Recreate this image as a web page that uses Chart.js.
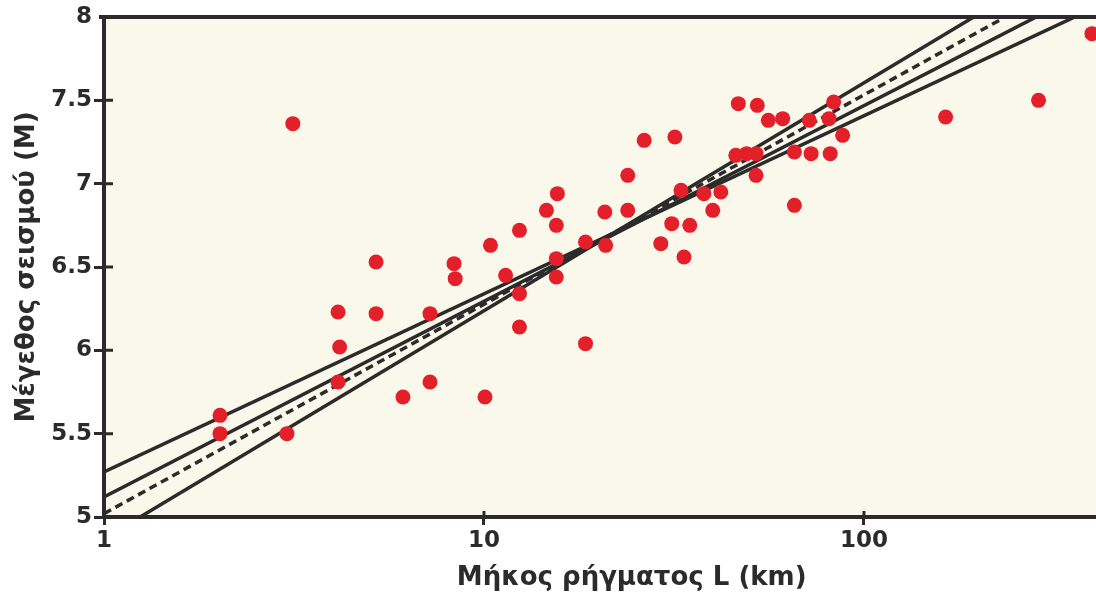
<!DOCTYPE html>
<html lang="el">
<head>
  <meta charset="UTF-8">
  <title>Μέγεθος σεισμού και μήκος ρήγματος</title>
  <style>
    html, body { margin: 0; padding: 0; background: #ffffff; }
    #wrap { width: 1096px; height: 600px; position: relative; }
  </style>
</head>
<body>
  <div id="wrap"><canvas id="chart"></canvas></div>

  <script src="https://cdn.jsdelivr.net/npm/chart.js"></script>
  <script>
    // Σεισμοί: μήκος ρήγματος L (km) και μέγεθος M
    var lengthKm = [2.02, 2.02, 3.03, 3.14, 4.13, 4.17, 4.13, 5.2, 5.2, 6.12,
                    7.21, 7.21, 8.34, 8.4, 10.06, 10.4, 11.4, 12.4, 12.4, 12.4,
                    14.6, 15.6, 15.5, 15.5, 15.5, 18.5, 18.5, 20.8, 20.9, 23.9,
                    23.9, 26.4, 29.2, 31.2, 31.8, 33.0, 33.6, 34.8, 37.9, 40.0,
                    42.0, 46.0, 46.7, 49.1, 52.0, 52.0, 52.4, 56.0, 61.1, 65.6,
                    65.6, 71.8, 72.6, 80.9, 81.5, 83.2, 87.9, 164, 288, 398];
    var magnitude = [5.61, 5.50, 5.50, 7.36, 6.23, 6.02, 5.81, 6.53, 6.22, 5.72,
                     6.22, 5.81, 6.52, 6.43, 5.72, 6.63, 6.45, 6.72, 6.34, 6.14,
                     6.84, 6.94, 6.75, 6.55, 6.44, 6.04, 6.65, 6.83, 6.63, 7.05,
                     6.84, 7.26, 6.64, 6.76, 7.28, 6.96, 6.56, 6.75, 6.94, 6.84,
                     6.95, 7.17, 7.48, 7.18, 7.18, 7.05, 7.47, 7.38, 7.39, 7.19,
                     6.87, 7.38, 7.18, 7.39, 7.18, 7.49, 7.29, 7.40, 7.50, 7.90];

    // Ευθείες συσχέτισης (άκρα σε L, M)
    var fitX = [1, 408];
    var fitUpper = [5.27, 8.06];
    var fitMiddle = [5.12, 8.185];
    var fitSteep = [4.87, 8.44];
    var fitDashedX = [1, 227];
    var fitDashed = [5.02, 7.98];

    var xTicks = [1, 10, 100];
    var yMin = 5, yMax = 8, yStep = 0.5;

    var ink = '#2b2b2b';
    var plotBg = '#faf8ea';
    var dotRed = '#e3202a';
    var fontFamily = '"DejaVu Sans", Verdana, sans-serif';

    function pairs(xs, ys) {
      return xs.map(function(x, i) { return { x: x, y: ys[i] }; });
    }

    function lineSet(xs, ys, dash) {
      return {
        data: pairs(xs, ys),
        showLine: true,
        borderColor: ink,
        borderWidth: 3.5,
        borderDash: dash || [],
        pointRadius: 0,
        fill: false,
        clip: 0,
        order: 1
      };
    }

    // φόντο περιοχής, πάνω πλαίσιο και εσωτερικά τμήματα των υποδιαιρέσεων
    var framePlugin = {
      id: 'frame',
      beforeDraw: function(chart) {
        var a = chart.chartArea, ctx = chart.ctx;
        ctx.save();
        ctx.fillStyle = plotBg;
        ctx.fillRect(a.left, a.top, a.right - a.left, a.bottom - a.top);
        ctx.restore();
      },
      beforeDatasetsDraw: function(chart) {
        var a = chart.chartArea, ctx = chart.ctx;
        var xs = chart.scales.x, ys = chart.scales.y;
        ctx.save();
        ctx.strokeStyle = ink;
        ctx.lineWidth = 3;
        ctx.beginPath();
        xs.ticks.forEach(function(t) {
          var px = xs.getPixelForValue(t.value);
          if (px > a.left + 4) { ctx.moveTo(px, a.bottom); ctx.lineTo(px, a.bottom - 6); }
        });
        ys.ticks.forEach(function(t) {
          var py = ys.getPixelForValue(t.value);
          if (py > a.top + 4 && py < a.bottom - 4) { ctx.moveTo(a.left, py); ctx.lineTo(a.left + 9, py); }
        });
        ctx.stroke();
        ctx.lineWidth = 4;
        ctx.beginPath();
        ctx.moveTo(a.left - 5, a.top);
        ctx.lineTo(a.right, a.top);
        ctx.stroke();
        ctx.restore();
      }
    };

    var tickFont = { family: fontFamily, size: 23, weight: 'bold' };
    var titleFont = { family: fontFamily, size: 26, weight: 'bold' };

    new Chart(document.getElementById('chart'), {
      type: 'scatter',
      data: {
        datasets: [
          {
            data: pairs(lengthKm, magnitude),
            backgroundColor: dotRed,
            borderWidth: 0,
            pointRadius: 7.5,
            pointHoverRadius: 7.5,
            order: 0
          },
          lineSet(fitX, fitUpper),
          lineSet(fitX, fitMiddle),
          lineSet(fitDashedX, fitDashed, [8, 5]),
          lineSet(fitX, fitSteep)
        ]
      },
      options: {
        responsive: true,
        maintainAspectRatio: false,
        animation: false,
        layout: { autoPadding: false, padding: { top: 17, right: 0, left: 0, bottom: 0 } },
        plugins: {
          legend: { display: false },
          tooltip: { enabled: false }
        },
        scales: {
          x: {
            type: 'logarithmic',
            min: 1,
            max: 408,
            afterBuildTicks: function(scale) {
              scale.ticks = xTicks.map(function(v) { return { value: v }; });
            },
            afterFit: function(scale) { scale.height = 83; },
            border: { display: true, color: ink, width: 4 },
            grid: { drawOnChartArea: false, drawTicks: true, tickLength: 8, tickWidth: 3, tickColor: ink },
            ticks: {
              color: ink,
              font: tickFont,
              padding: 2,
              maxRotation: 0,
              autoSkip: false,
              callback: function(v) { return String(v); }
            },
            title: {
              display: true,
              text: '\u00a0\u00a0\u00a0\u00a0\u00a0\u00a0\u00a0Μήκος ρήγματος L (km)',
              color: ink,
              font: titleFont,
              padding: { top: 0, bottom: 6 }
            }
          },
          y: {
            min: yMin,
            max: yMax,
            afterFit: function(scale) { scale.width = 104; },
            border: { display: true, color: ink, width: 4 },
            grid: {
              drawOnChartArea: false,
              drawTicks: true,
              tickLength: 10,
              tickWidth: 3,
              tickColor: function(c) { return c.tick && c.tick.value === yMax ? 'rgba(0,0,0,0)' : ink; }
            },
            ticks: {
              stepSize: yStep,
              color: ink,
              font: tickFont,
              padding: 2,
              callback: function(v) { return String(v); }
            },
            title: {
              display: true,
              text: 'Μέγεθος σεισμού (M)',
              color: ink,
              font: titleFont,
              padding: { top: 12, bottom: 0 }
            }
          }
        }
      },
      plugins: [framePlugin]
    });
  </script>
</body>
</html>
